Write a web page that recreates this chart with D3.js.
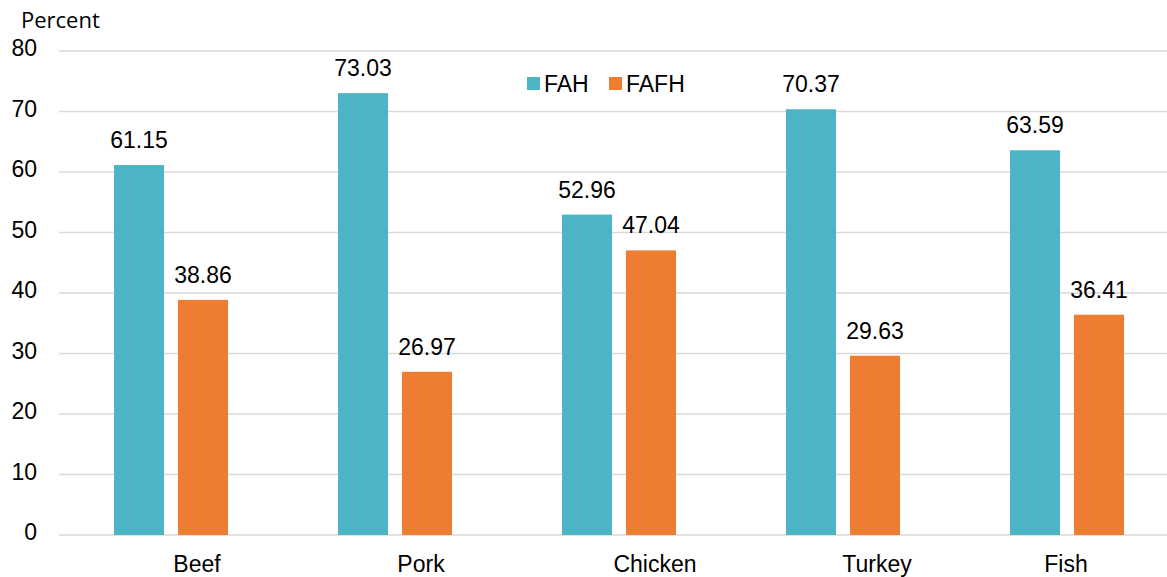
<!DOCTYPE html>
<html>
<head>
<meta charset="utf-8">
<script src="https://cdn.jsdelivr.net/npm/d3@7"></script>
<style>
  body { margin: 0; background: #fff; }
  svg { display: block; }
</style>
</head>
<body>
<svg id="chart"></svg>
<script>
const categories = ["Beef", "Pork", "Chicken", "Turkey", "Fish"];
const seriesNames = ["FAH", "FAFH"];
const fahValues = [61.15, 73.03, 52.96, 70.37, 63.59];
const fafhValues = [38.86, 26.97, 47.04, 29.63, 36.41];
const yTicks = [0, 10, 20, 30, 40, 50, 60, 70, 80];

const colors = { FAH: "#4bb5c5", FAFH: "#ed7d31" };

// the category labels in the original sit a little off the group centres
const labelShift = [26, 26, 36, 34, -1];

const width = 1167;
const height = 577;
const fontFamily = "Liberation Sans, Arial, sans-serif";

const svg = d3.select("#chart")
  .attr("width", width)
  .attr("height", height);

const x = d3.scaleBand()
  .domain(categories)
  .range([59, 1179]);

const y = d3.scaleLinear()
  .domain([0, 80])
  .range([535, 51]);

// gridlines
svg.append("g")
  .selectAll("line")
  .data(yTicks)
  .enter()
  .append("line")
  .attr("x1", 59)
  .attr("x2", width)
  .attr("y1", d => y(d))
  .attr("y2", d => y(d))
  .attr("stroke", "#d9d9d9")
  .attr("stroke-width", 1.5);

// y tick labels
svg.append("g")
  .selectAll("text")
  .data(yTicks)
  .enter()
  .append("text")
  .attr("x", 37)
  .attr("y", d => y(d) + 5)
  .attr("text-anchor", "end")
  .attr("font-family", fontFamily)
  .attr("font-size", 23)
  .attr("fill", "#000")
  .text(d => d);

svg.append("text")
  .attr("x", 21)
  .attr("y", 28)
  .attr("font-family", "Open Sans, sans-serif")
  .attr("font-size", 22)
  .attr("fill", "#000")
  .text("Percent");

// bars
const rows = categories.map((c, i) => ({ cat: c, FAH: fahValues[i], FAFH: fafhValues[i] }));
const barW = 50;
const offsets = { FAH: -57, FAFH: 7 };

seriesNames.forEach(s => {
  const g = svg.append("g");

  g.selectAll("rect")
    .data(rows)
    .enter()
    .append("rect")
    .attr("x", d => x(d.cat) + x.bandwidth() / 2 + offsets[s])
    .attr("y", d => y(d[s]))
    .attr("width", barW)
    .attr("height", d => y(0) - y(d[s]))
    .attr("fill", colors[s]);

  g.selectAll("text")
    .data(rows)
    .enter()
    .append("text")
    .attr("x", d => x(d.cat) + x.bandwidth() / 2 + offsets[s] + barW / 2)
    .attr("y", d => y(d[s]) - 17)
    .attr("text-anchor", "middle")
    .attr("font-family", fontFamily)
    .attr("font-size", 23)
    .attr("fill", "#000")
    .text(d => d[s].toFixed(2));
});

// category labels
svg.append("g")
  .selectAll("text")
  .data(categories)
  .enter()
  .append("text")
  .attr("x", (d, i) => x(d) + x.bandwidth() / 2 + labelShift[i])
  .attr("y", 572)
  .attr("text-anchor", "middle")
  .attr("font-family", fontFamily)
  .attr("font-size", 23)
  .attr("fill", "#000")
  .text(d => d);

// legend
const legend = svg.append("g");
const legendX = [527, 609];

seriesNames.forEach((s, i) => {
  legend.append("rect")
    .attr("x", legendX[i])
    .attr("y", 77)
    .attr("width", 13)
    .attr("height", 13)
    .attr("fill", colors[s]);

  legend.append("text")
    .attr("x", legendX[i] + 17)
    .attr("y", 92)
    .attr("font-family", fontFamily)
    .attr("font-size", 23)
    .attr("fill", "#000")
    .text(s);
});
</script>
</body>
</html>
